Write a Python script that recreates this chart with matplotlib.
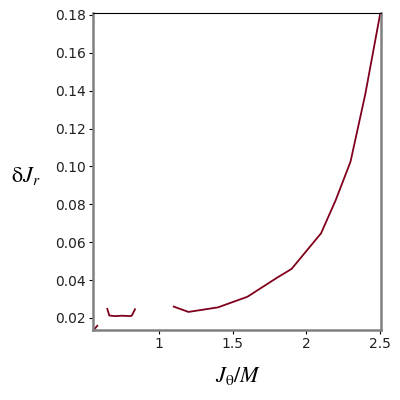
import matplotlib
matplotlib.use("Agg")
import matplotlib.pyplot as plt
import numpy as np

# three separate curve pieces (gaps where no data)
x_seg1 = [0.563, 0.581]
y_seg1 = [0.0142, 0.0159]

x_seg2 = [0.649, 0.663, 0.70, 0.75, 0.80, 0.815, 0.837]
y_seg2 = [0.0248, 0.0213, 0.0210, 0.0212, 0.0210, 0.0212, 0.0246]

x_seg3 = [1.10, 1.20, 1.40, 1.60, 1.80, 1.90, 2.10, 2.20, 2.30, 2.40, 2.50]
y_seg3 = [0.0260, 0.0232, 0.0256, 0.0312, 0.0412, 0.0459, 0.0647, 0.0823, 0.1025, 0.138, 0.180]

x_ticks = [1, 1.5, 2, 2.5]
x_tick_labels = ["1", "1.5", "2", "2.5"]
y_ticks = [0.02, 0.04, 0.06, 0.08, 0.10, 0.12, 0.14, 0.16, 0.18]

plt.rcParams["mathtext.fontset"] = "stix"

fig = plt.figure(figsize=(4, 4), dpi=100)
ax = fig.add_axes([0.2325, 0.175, 0.72, 0.7925])

line_color = "#80001c"
for xs, ys in [(x_seg1, y_seg1), (x_seg2, y_seg2), (x_seg3, y_seg3)]:
    ax.plot(xs, ys, color=line_color, linewidth=1.3)

ax.set_xlim(0.552, 2.507)
ax.set_ylim(0.01366, 0.181)

ax.set_xticks(x_ticks)
ax.set_xticklabels(x_tick_labels)
ax.set_yticks(y_ticks)
ax.set_yticklabels(["%.2f" % v for v in y_ticks])
ax.tick_params(axis="both", labelsize=10, length=3, width=0.8, color="black",
               labelcolor="#202020", pad=2)

for side in ["left", "bottom", "right"]:
    ax.spines[side].set_color("#808080")
    ax.spines[side].set_linewidth(1.8)
ax.spines["top"].set_color("black")
ax.spines["top"].set_linewidth(0.8)

fig.text(0.065, 0.56, r"$\mathrm{\delta}J_r$", fontsize=16, ha="center", va="center")
fig.text(0.595, 0.06, r"$J_\mathrm{\theta}/M$", fontsize=16, ha="center", va="center")

fig.savefig("out.png", dpi=100)
